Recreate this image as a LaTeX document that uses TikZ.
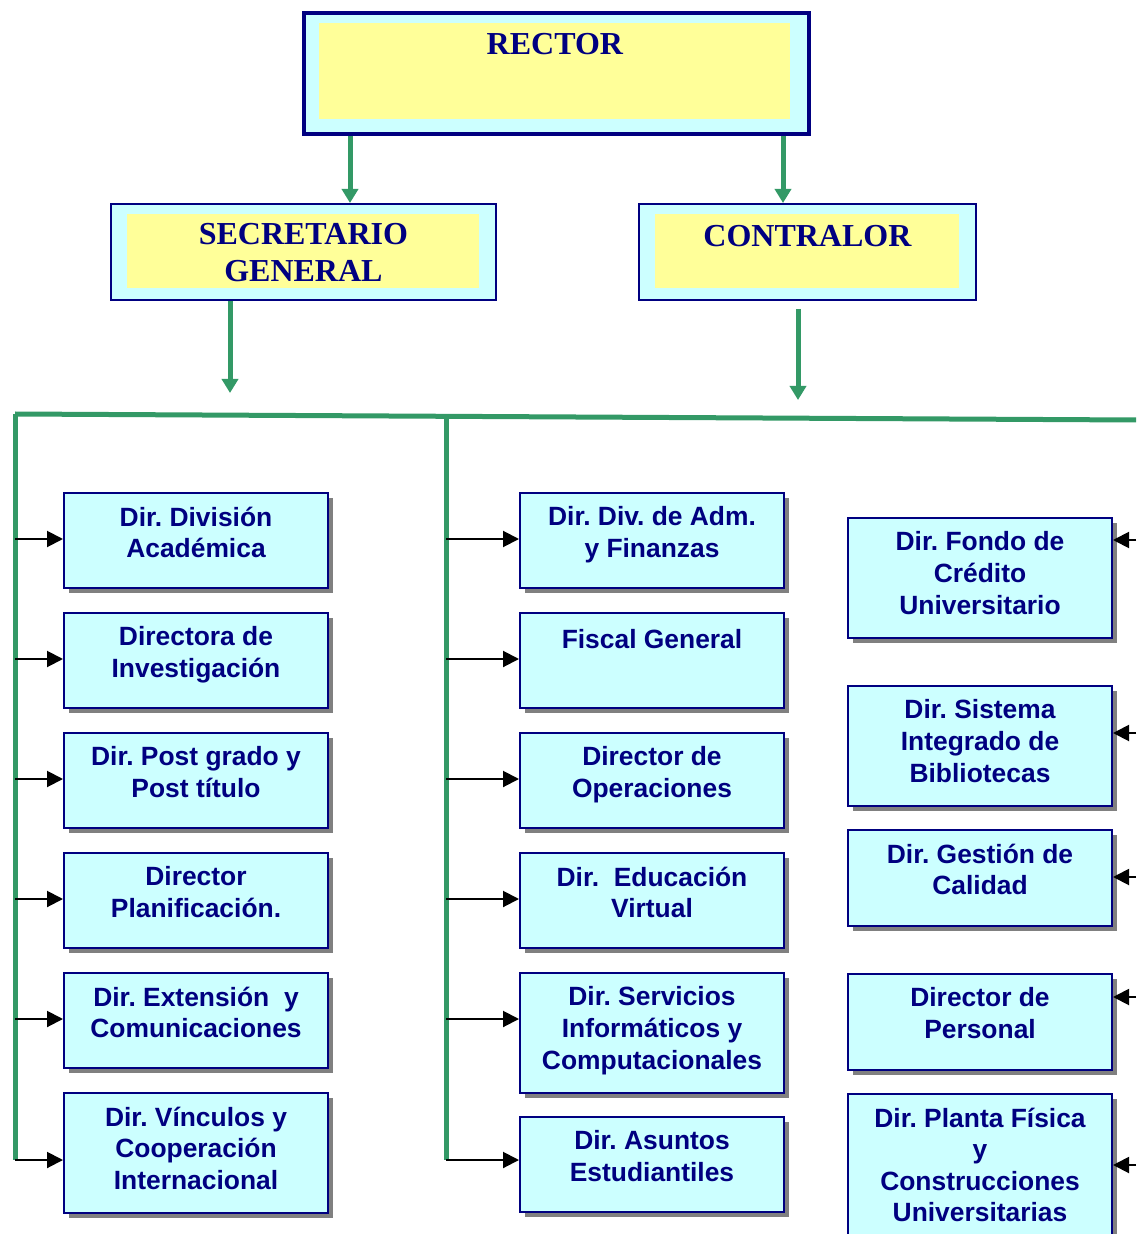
\documentclass[tikz,border=0pt]{standalone}
\usepackage{fontspec}
\setmainfont{Liberation Serif}
\setsansfont{Liberation Sans}
\usetikzlibrary{arrows.meta, shadows, calc}
\definecolor{navy}{RGB}{0,0,128}
\definecolor{cajacyan}{RGB}{204,255,255}
\definecolor{cajaamarilla}{RGB}{255,255,153}
\definecolor{verde}{RGB}{51,153,102}
\tikzset{
  unidad/.style={draw=navy, line width=1pt, fill=cajacyan, minimum width=132pt, anchor=north west, inner sep=0pt,
    drop shadow={shadow xshift=2.5pt, shadow yshift=-2.5pt, fill=black!50, opacity=1}},
  nombre/.style={anchor=north, inner sep=0pt, align=center, text=navy,
    font=\sffamily\bfseries\fontsize{13.2}{15.8}\selectfont\frenchspacing, execute at begin node=\strut},
  jefe/.style={draw=navy, line width=1pt, fill=cajacyan, anchor=north west, inner sep=0pt},
  fondo/.style={fill=cajaamarilla, anchor=north west, inner sep=0pt},
  titulo/.style={anchor=north, inner sep=0pt, align=center, text=navy,
    font=\rmfamily\bfseries\fontsize{16}{18.5}\selectfont, execute at begin node=\strut},
  linea/.style={verde, line width=2.5pt},
  flecha/.style={linea, -{Triangle[length=7pt, width=8pt]}},
  enlace/.style={black, line width=1pt, -{Triangle[length=8pt, width=8pt]}}
}
\begin{document}
\begin{tikzpicture}[x=0.5pt, y=-0.5pt]
  \path[use as bounding box] (0,0) rectangle (1136,1234);
  \clip (0,0) rectangle (1136,1234);

  % jefaturas
  \node[jefe, line width=2pt, minimum width=252.5pt, minimum height=60.5pt] (rector) at (302,11) {};
  \node[fondo, minimum width=235.5pt, minimum height=48pt] (rectorfondo) at (319,23) {};
  \node[titulo] (rectortxt) at ([yshift=-2.5pt]rectorfondo.north) {RECTOR};

  \node[jefe, minimum width=192.5pt, minimum height=48pt] (secretario) at (110,203) {};
  \node[fondo, minimum width=176pt, minimum height=37pt] (secretariofondo) at (127,214) {};
  \node[titulo] (secretariotxt) at ([yshift=-4.5pt]secretariofondo.north) {SECRETARIO\\GENERAL};

  \node[jefe, minimum width=168.5pt, minimum height=48pt] (contralor) at (638,203) {};
  \node[fondo, minimum width=152pt, minimum height=37pt] (contralorfondo) at (655,214) {};
  \node[titulo] (contralortxt) at ([yshift=-3pt]contralorfondo.north) {CONTRALOR};

  \coordinate (r1) at ([xshift=24pt]rector.south west);
  \coordinate (r2) at ([xshift=240.5pt]rector.south west);
  \draw[flecha] (r1) -- (r1 |- secretario.north);
  \draw[flecha] (r2) -- (r2 |- contralor.north);

  \coordinate (s1) at ([xshift=60pt]secretario.south west);
  \coordinate (s2) at (230,393);
  \draw[flecha] (s1) -- (s2);
  \coordinate (c1) at ([xshift=80pt, yshift=-4pt]contralor.south west);
  \coordinate (c2) at (798,400);
  \draw[flecha] (c1) -- (c2);

  % lineas de dependencia
  \coordinate (esq) at (15,414);
  \coordinate (fin) at (1136,420);
  \coordinate (medio) at (446,416);
  \draw[linea] (esq) -- (fin);
  \draw[linea] (esq) -- (15,1160);
  \draw[linea] (medio) -- (446,1160);

  % columna izquierda
  \node[unidad, minimum height=47.5pt] (dacad) at (63,492) {};
  \node[nombre] (dacadtxt) at ([yshift=-7.2pt]dacad.north) {Dir. División\\Académica};
  \node[unidad, minimum height=47.5pt] (dinv) at (63,612) {};
  \node[nombre] (dinvtxt) at ([yshift=-7.2pt]dinv.north) {Directora de\\Investigación};
  \node[unidad, minimum height=47.5pt] (dpost) at (63,732) {};
  \node[nombre] (dposttxt) at ([yshift=-7.2pt]dpost.north) {Dir. Post grado y\\Post título};
  \node[unidad, minimum height=47.5pt] (dplan) at (63,852) {};
  \node[nombre] (dplantxt) at ([yshift=-7.2pt]dplan.north) {Director\\Planificación.};
  \node[unidad, minimum height=47.5pt] (dext) at (63,972) {};
  \node[nombre] (dexttxt) at ([yshift=-7.2pt]dext.north) {Dir. Extensión~ y\\Comunicaciones};
  \node[unidad, minimum height=60pt] (dvinc) at (63,1092) {};
  \node[nombre] (dvinctxt) at ([yshift=-7.2pt]dvinc.north) {Dir. Vínculos y\\Cooperación\\Internacional};

  % columna central
  \node[unidad, minimum height=47.5pt] (dadm) at (519,492) {};
  \node[nombre] (dadmtxt) at ([yshift=-7.2pt]dadm.north) {Dir. Div. de Adm.\\y Finanzas};
  \node[unidad, minimum height=47.5pt] (fiscal) at (519,612) {};
  \node[nombre] (fiscaltxt) at ([yshift=-7.2pt]fiscal.north) {Fiscal General};
  \node[unidad, minimum height=47.5pt] (doper) at (519,732) {};
  \node[nombre] (dopertxt) at ([yshift=-7.2pt]doper.north) {Director de\\Operaciones};
  \node[unidad, minimum height=47.5pt] (dvirt) at (519,852) {};
  \node[nombre] (dvirttxt) at ([yshift=-7.2pt]dvirt.north) {Dir.~ Educación\\Virtual};
  \node[unidad, minimum height=60pt] (dinfo) at (519,972) {};
  \node[nombre] (dinfotxt) at ([yshift=-7.2pt]dinfo.north) {Dir. Servicios\\Informáticos y\\Computacionales};
  \node[unidad, minimum height=47.5pt] (dest) at (519,1116) {};
  \node[nombre] (desttxt) at ([yshift=-7.2pt]dest.north) {Dir. Asuntos\\Estudiantiles};

  % columna derecha
  \node[unidad, minimum height=60pt] (dfondo) at (847,517) {};
  \node[nombre] (dfondotxt) at ([yshift=-7.2pt]dfondo.north) {Dir. Fondo de\\Crédito\\Universitario};
  \node[unidad, minimum height=60pt] (dbib) at (847,685) {};
  \node[nombre] (dbibtxt) at ([yshift=-7.2pt]dbib.north) {Dir. Sistema\\Integrado de\\Bibliotecas};
  \node[unidad, minimum height=48pt] (dcal) at (847,829) {};
  \node[nombre] (dcaltxt) at ([yshift=-7.2pt]dcal.north) {Dir. Gestión de\\Calidad};
  \node[unidad, minimum height=48pt] (dpers) at (847,973) {};
  \node[nombre] (dperstxt) at ([yshift=-7.2pt]dpers.north) {Director de\\Personal};
  \node[unidad, minimum height=80pt] (dplanta) at (847,1093) {};
  \node[nombre] (dplantatxt) at ([yshift=-7.2pt]dplanta.north) {Dir. Planta Física\\y\\Construcciones\\Universitarias};

  % enlaces
  \foreach \n/\y in {dacad/539, dinv/659, dpost/779, dplan/899, dext/1019, dvinc/1160}{
    \coordinate (a\n) at (15,\y);
    \draw[enlace] (a\n) -- (a\n -| \n.west);
  }
  \foreach \n/\y in {dadm/539, fiscal/659, doper/779, dvirt/899, dinfo/1019, dest/1160}{
    \coordinate (a\n) at (446,\y);
    \draw[enlace] (a\n) -- (a\n -| \n.west);
  }
  \foreach \n/\y in {dfondo/540, dbib/733, dcal/877, dpers/997, dplanta/1165}{
    \coordinate (a\n) at (1136,\y);
    \draw[enlace] (a\n) -- (a\n -| \n.east);
  }
\end{tikzpicture}
\end{document}
